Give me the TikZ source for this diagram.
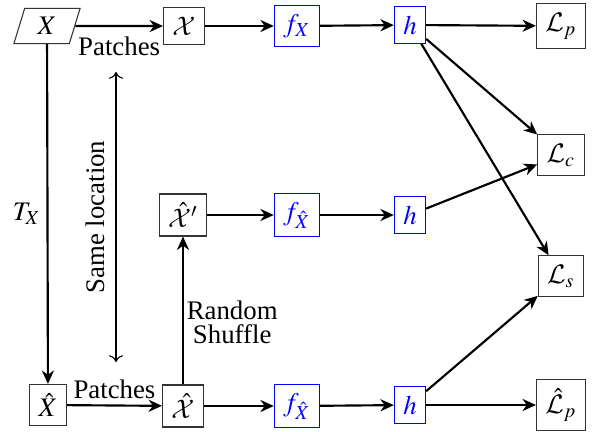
\documentclass[tikz,border=0pt]{standalone}
\usepackage{mathptmx}
\DeclareMathAlphabet{\mathcal}{OMS}{cmsy}{m}{n}
\usepackage[no-math]{fontspec}
\setmainfont{Liberation Serif}
\newfontfamily\tms{Liberation Serif}
\usetikzlibrary{shapes.geometric,arrows.meta}

\begin{document}
\begin{tikzpicture}[x=0.373pt,y=-0.373pt, font=\tms,
  box/.style={draw=black!80, thin, inner sep=3.33pt},
  netbox/.style={draw=blue, thin, text=blue, inner sep=3.33pt},
  flow/.style={thick, -{Stealth[length=5pt,width=4.5pt,inset=1.6pt]}},
  lbl/.style={inner sep=1pt}]
\useasboundingbox (0,0) rectangle (593,432);

% inputs and patch sets
\node[box, trapezium, trapezium left angle=73, trapezium right angle=107,
      inner xsep=4.8pt, minimum height=13pt] (x) at (47,26) {$X$};
\node[box] (px)  at (184,26)  {$\mathcal{X}$};
\node[box] (xh)  at (48,405)  {$\hat{X}$};
\node[box] (pxh) at (183,406) {$\hat{\mathcal{X}}$};
\node[box] (pxs) at (183,215) {$\hat{\mathcal{X}}'$};

% encoders and heads
\node[netbox] (f1) at (297,26)  {$f_X$};
\node[netbox] (h1) at (410,25)  {$h$};
\node[netbox] (f2) at (297,215) {$f_{\hat{X}}$};
\node[netbox] (h2) at (410,215) {$h$};
\node[netbox] (f3) at (297,406) {$f_{\hat{X}}$};
\node[netbox] (h3) at (410,405) {$h$};

% losses
\node[box] (lp)  at (561,26)  {$\mathcal{L}_p$};
\node[box] (lc)  at (561,155) {$\mathcal{L}_c$};
\node[box] (ls)  at (561,276) {$\mathcal{L}_s$};
\node[box] (lph) at (561,405) {$\hat{\mathcal{L}}_p$};

% patch extraction and transformation
\draw[flow] (x) -- node[lbl, below=2.5pt] {Patches} (px);
\draw[flow] (xh) -- node[lbl, above=1pt] {Patches} (pxh);
\draw[flow] (x) -- node[lbl, left=1pt] {$T_X$} (xh);
\draw[flow] (pxh) -- node[lbl, right=0pt, align=center, yshift=-4.5pt] {Random\\[-3pt]Shuffle} (pxs);

% correspondence between patch locations
\coordinate (sa) at (116,72);
\coordinate (sb) at (116,362);
\draw[thin, {To[length=2.5pt]}-{To[length=2.5pt]}] (sa) -- node[lbl, left=3pt, rotate=90, anchor=south] {Same location} (sb);

% branches
\draw[flow] (px) -- (f1);
\draw[flow] (f1) -- (h1);
\draw[flow] (h1) -- (lp);
\draw[flow] (h1) -- (lc);
\draw[flow] (h1) -- (ls);
\draw[flow] (pxs) -- (f2);
\draw[flow] (f2) -- (h2);
\draw[flow] (h2) -- (lc);
\draw[flow] (pxh) -- (f3);
\draw[flow] (f3) -- (h3);
\draw[flow] (h3) -- (ls);
\draw[flow] (h3) -- (lph);
\end{tikzpicture}
\end{document}
